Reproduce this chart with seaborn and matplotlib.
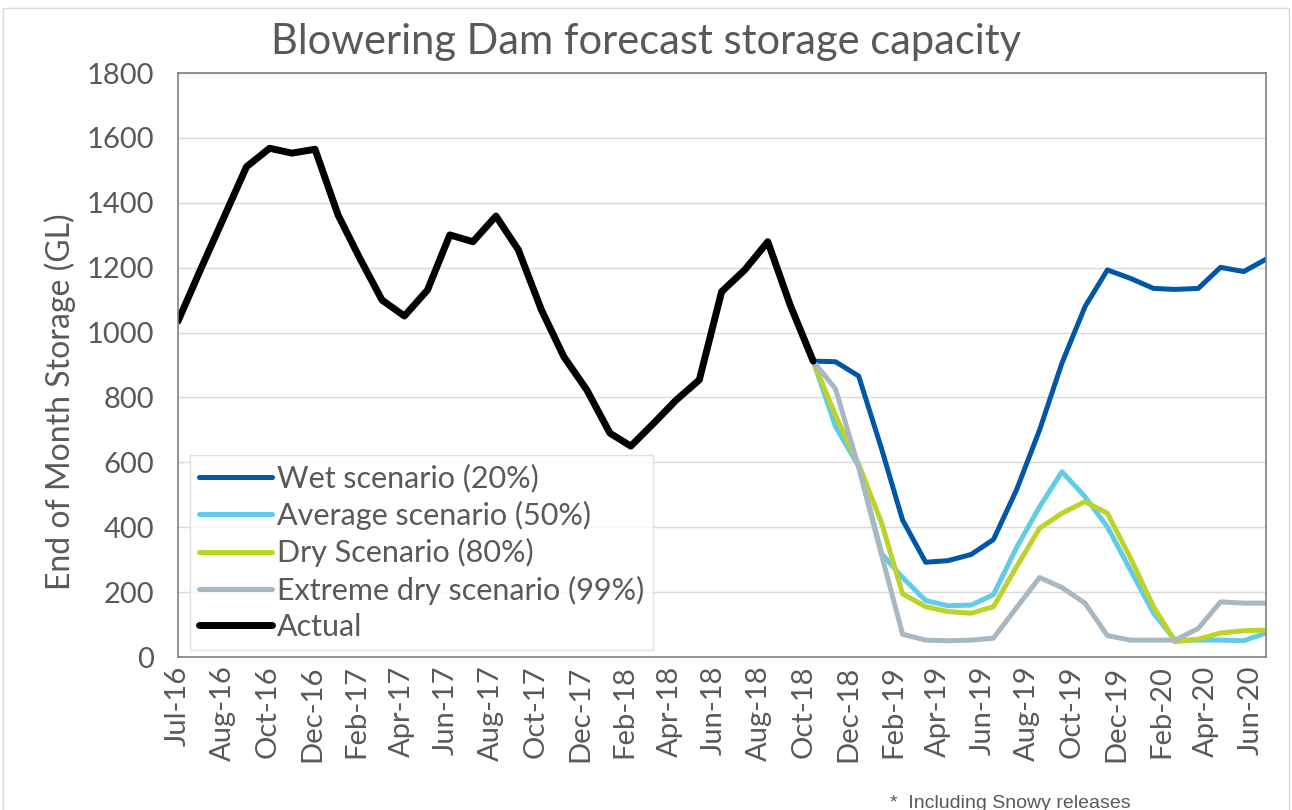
import matplotlib
matplotlib.use("Agg")
import numpy as np
import pandas as pd
import seaborn as sns
import matplotlib.pyplot as plt
from matplotlib.patches import Rectangle

# ---------------- data ----------------
months = pd.date_range("2016-07-01", periods=49, freq="MS")

actual = [1035, 1198, 1357, 1511, 1568, 1553, 1565, 1362, 1234, 1100,
          1051, 1131, 1301, 1280, 1359, 1255, 1070, 926, 823, 690,
          650, 721, 792, 854, 1126, 1193, 1280, 1085, 912]
forecast_start = 28  # Nov-18 (first forecast month = last actual)

wet = [912, 910, 866, 640, 422, 292, 297, 316, 362, 515, 700, 906, 1080,
       1193, 1167, 1136, 1133, 1136, 1201, 1188, 1226]
average = [912, 710, 588, 318, 245, 174, 158, 160, 192, 337, 463, 571, 494,
           401, 268, 135, 52, 52, 52, 50, 74]
dry = [912, 744, 594, 412, 195, 155, 140, 135, 155, 278, 397, 443, 479,
       443, 305, 155, 47, 55, 74, 81, 83]
extreme = [912, 826, 585, 312, 70, 52, 50, 52, 58, 152, 245, 214, 166,
           66, 52, 52, 52, 88, 170, 166, 166]

series_names = ["Wet scenario (20%)", "Average scenario (50%)",
                "Dry Scenario (80%)", "Extreme dry scenario (99%)", "Actual"]
series_values = [wet, average, dry, extreme, actual]
series_starts = [forecast_start] * 4 + [0]
colors = ["#0057A8", "#62CBE8", "#BDD32A", "#A8B8C3", "#000000"]
widths = [3.6, 3.6, 3.6, 3.6, 5.0]

tick_every_days = 60
n_ticks = 25
y_ticks = list(range(0, 1801, 200))

# ---------------- figure ----------------
sns.set_theme(style="white")
plt.rcParams["font.family"] = ["Lato", "DejaVu Sans"]
text_grey = "#595959"

fig = plt.figure(figsize=(12.92, 8.10), dpi=100)
ax = fig.add_axes([178 / 1292, 1 - 657 / 810, (1266 - 178) / 1292, (657 - 73) / 810])

for name, vals, start, c, lw in zip(series_names, series_values, series_starts, colors, widths):
    df = pd.DataFrame({"date": months[start:start + len(vals)], "value": vals})
    sns.lineplot(data=df, x="date", y="value", ax=ax, color=c, linewidth=lw,
                 label=name, sort=False, solid_capstyle="round",
                 solid_joinstyle="round")

ax.set_xlim(months[0], months[-1])
ax.set_ylim(0, 1800)
ax.set_yticks(y_ticks)
ax.set_yticklabels([str(v) for v in y_ticks], fontsize=21, color=text_grey)

xt = [months[0] + pd.Timedelta(days=tick_every_days * k) for k in range(n_ticks)]
ax.set_xticks(xt)
ax.set_xticklabels([d.strftime("%b-%y") for d in xt], rotation=90,
                   fontsize=21, color=text_grey)
ax.tick_params(axis="both", length=0)
ax.tick_params(axis="y", pad=17)
ax.tick_params(axis="x", pad=6)

ax.set_xlabel("")
ax.set_ylabel("")
ax.yaxis.grid(True, color="#d9d9d9", linewidth=1.0)
ax.xaxis.grid(False)
ax.set_axisbelow(True)
for s in ax.spines.values():
    s.set_visible(True)
    s.set_color("#7f7f7f")
    s.set_linewidth(1.2)

leg = ax.legend(loc="lower left", bbox_to_anchor=(0.011, 0.012), frameon=True,
                fancybox=False, edgecolor="#d9d9d9", fontsize=22,
                handlelength=2.4, handletextpad=0.15, labelspacing=0.27,
                borderpad=0.3, borderaxespad=0)
leg.get_frame().set_linewidth(1.0)
for t in leg.get_texts():
    t.set_color(text_grey)

fig.text(0.5, 1 - 42 / 810, "Blowering Dam forecast storage capacity",
         ha="center", va="center", fontsize=30, color=text_grey)
fig.text(60 / 1292, 1 - 402 / 810, "End of Month Storage (GL)", rotation=90,
         ha="center", va="center", fontsize=23, color=text_grey)
fig.text(890 / 1292, 1 - 795 / 810, "*  Including Snowy releases",
         ha="left", va="top", fontsize=14, color=text_grey,
         family=["Liberation Sans", "DejaVu Sans"])

fig.patches.append(Rectangle((3 / 1292, -0.01), 1286 / 1292, 1 - 8 / 810 + 0.01,
                             transform=fig.transFigure, fill=False,
                             edgecolor="#d9d9d9", linewidth=1.0))

fig.savefig("out.png", dpi=100)
